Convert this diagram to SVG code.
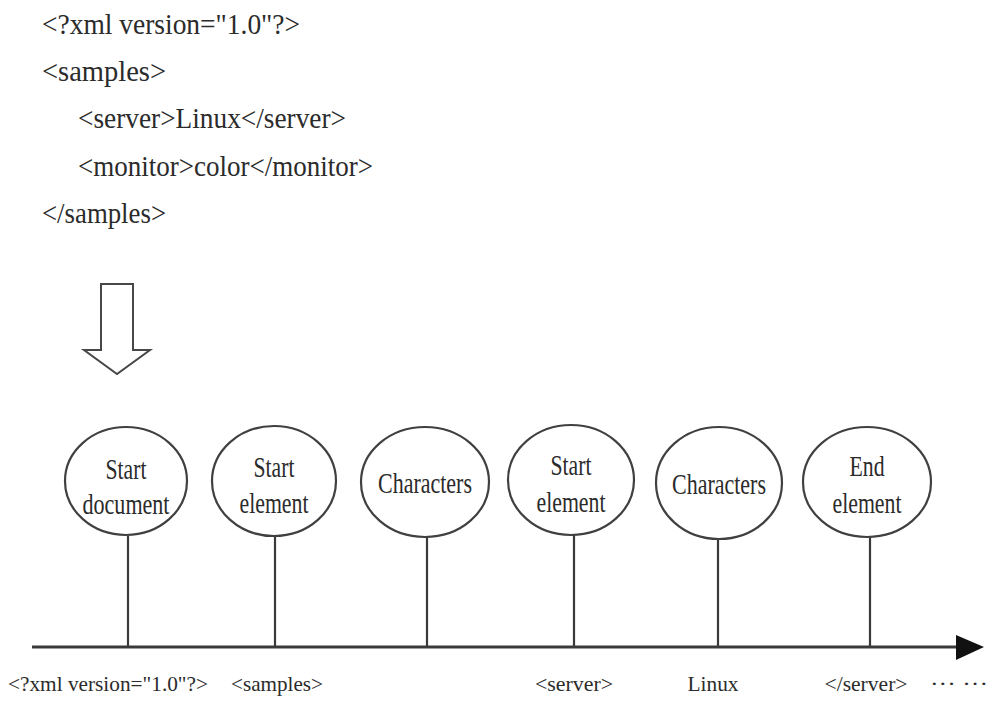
<svg xmlns="http://www.w3.org/2000/svg" width="1005" height="719" viewBox="0 0 1005 719">
<style>
text{font-family:"Liberation Serif","Times New Roman",serif;fill:#2b2b2b}
.code{font-size:29px}
.node{font-size:29px;text-anchor:middle}
.lbl{font-size:22px;text-anchor:middle}
.ell{fill:#fff;stroke:#404040;stroke-width:2.2}
.conn{stroke:#3a3a3a;stroke-width:2.2;fill:none}
</style>
<rect width="1005" height="719" fill="#fff"/>
<g id="code">
<text class="code" x="42" y="34" textLength="258" lengthAdjust="spacingAndGlyphs">&lt;?xml version="1.0"?&gt;</text>
<text class="code" x="42" y="81" textLength="124" lengthAdjust="spacingAndGlyphs">&lt;samples&gt;</text>
<text class="code" x="78" y="128" textLength="268" lengthAdjust="spacingAndGlyphs">&lt;server&gt;Linux&lt;/server&gt;</text>
<text class="code" x="78" y="176" textLength="295" lengthAdjust="spacingAndGlyphs">&lt;monitor&gt;color&lt;/monitor&gt;</text>
<text class="code" x="42" y="223" textLength="124" lengthAdjust="spacingAndGlyphs">&lt;/samples&gt;</text>
</g>
<g id="block-arrow">
<polygon points="101,284 133,284 133,350 150,350 117,374 84,350 101,350" fill="#fff" stroke="#474747" stroke-width="2" stroke-linejoin="miter"/>
</g>
<g id="connectors">
<line class="conn" x1="128" y1="536" x2="128" y2="647"/>
<line class="conn" x1="275" y1="536" x2="275" y2="647"/>
<line class="conn" x1="427" y1="537" x2="427" y2="647"/>
<line class="conn" x1="574" y1="535" x2="574" y2="647"/>
<line class="conn" x1="718" y1="538" x2="718" y2="647"/>
<line class="conn" x1="870" y1="537" x2="870" y2="647"/>
<line x1="32" y1="647" x2="960" y2="647" stroke="#3a3a3a" stroke-width="3.2"/>
<polygon points="956,635 984,647 956,660" fill="#111"/>
</g>
<g id="node-start-document">
<ellipse class="ell" cx="126" cy="481" rx="61" ry="54"/>
<text class="node" x="126" y="479" textLength="41" lengthAdjust="spacingAndGlyphs">Start</text>
<text class="node" x="126" y="514" textLength="87" lengthAdjust="spacingAndGlyphs">document</text>
</g>
<g id="node-start-element-1">
<ellipse class="ell" cx="274" cy="481" rx="62" ry="55"/>
<text class="node" x="274" y="477" textLength="41" lengthAdjust="spacingAndGlyphs">Start</text>
<text class="node" x="274" y="513" textLength="69" lengthAdjust="spacingAndGlyphs">element</text>
</g>
<g id="node-characters-1">
<ellipse class="ell" cx="425" cy="482" rx="64" ry="55"/>
<text class="node" x="425" y="493" textLength="94" lengthAdjust="spacingAndGlyphs">Characters</text>
</g>
<g id="node-start-element-2">
<ellipse class="ell" cx="571" cy="480" rx="63" ry="55"/>
<text class="node" x="571" y="475" textLength="41" lengthAdjust="spacingAndGlyphs">Start</text>
<text class="node" x="571" y="512" textLength="69" lengthAdjust="spacingAndGlyphs">element</text>
</g>
<g id="node-characters-2">
<ellipse class="ell" cx="719" cy="483" rx="63" ry="56"/>
<text class="node" x="719" y="494" textLength="94" lengthAdjust="spacingAndGlyphs">Characters</text>
</g>
<g id="node-end-element">
<ellipse class="ell" cx="867" cy="482" rx="64" ry="55"/>
<text class="node" x="867" y="476" textLength="35" lengthAdjust="spacingAndGlyphs">End</text>
<text class="node" x="867" y="513" textLength="69" lengthAdjust="spacingAndGlyphs">element</text>
</g>
<g id="labels">
<text class="lbl" x="108" y="691" textLength="200" lengthAdjust="spacingAndGlyphs">&lt;?xml version="1.0"?&gt;</text>
<text class="lbl" x="277" y="691" textLength="92" lengthAdjust="spacingAndGlyphs">&lt;samples&gt;</text>
<text class="lbl" x="574" y="691" textLength="78" lengthAdjust="spacingAndGlyphs">&lt;server&gt;</text>
<text class="lbl" x="713" y="691" textLength="51" lengthAdjust="spacingAndGlyphs">Linux</text>
<text class="lbl" x="866" y="691" textLength="83" lengthAdjust="spacingAndGlyphs">&lt;/server&gt;</text>
<text class="lbl" x="959" y="691" textLength="58" lengthAdjust="spacingAndGlyphs">··· ···</text>
</g>
</svg>
